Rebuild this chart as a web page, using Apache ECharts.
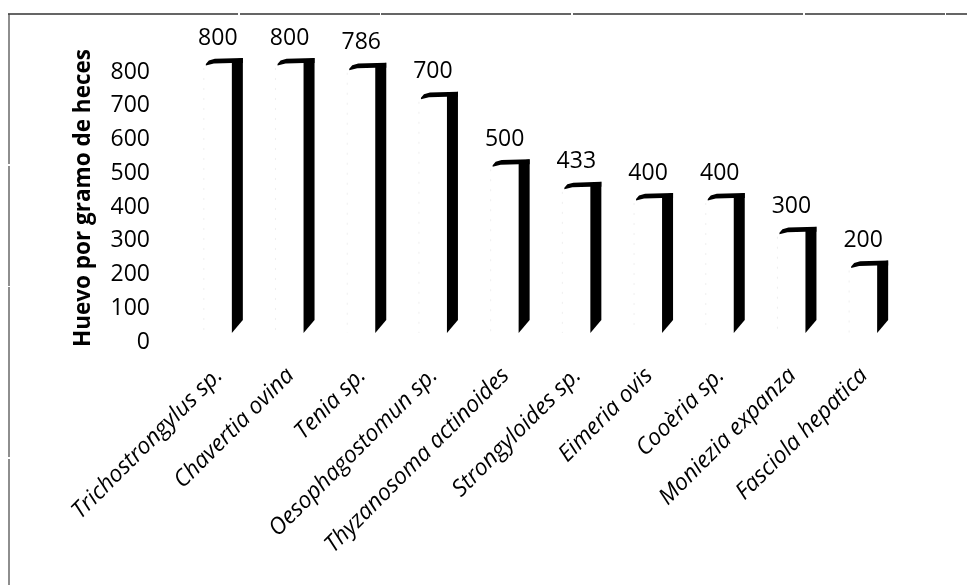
<!DOCTYPE html>
<html>
<head>
<meta charset="utf-8">
<title>Huevo por gramo de heces</title>
<script src="https://cdn.jsdelivr.net/npm/echarts@6/dist/echarts.min.js"></script>
<style>
  html, body { margin: 0; padding: 0; background: #fff; }
  #chart { width: 967px; height: 585px; }
</style>
</head>
<body>
<div id="chart"></div>
<script>
// Parasite species (x axis)
const categories = [
  'Trichostrongylus sp.', 'Chavertia ovina', 'Tenia sp.', 'Oesophagostomun sp.',
  'Thyzanosoma actinoides', 'Strongyloides sp.', 'Eimeria ovis', 'Cooèria sp.',
  'Moniezia expanza', 'Fasciola hepatica'
];
// Eggs per gram of faeces for each species
const hpgValues = [800, 800, 786, 700, 500, 433, 400, 400, 300, 200];
// Value axis ticks
const yTicks = [0, 100, 200, 300, 400, 500, 600, 700, 800];

const FONT = '"Open Sans", "Noto Sans", sans-serif';

// 3D column drawn as its dark right side face plus the back edge of its top face
function renderColumn(params, api) {
  const idx = api.value(0);
  const val = api.value(1);
  const top = api.coord([idx, val]);
  const base = api.coord([idx, 0]);
  const cx = top[0];
  const t = top[1] - 14;           // back plane sits higher than the front plane
  const b = base[1];
  const ink = '#000';
  return {
    type: 'group',
    children: [
      {
        // faint outline of the front face
        type: 'line',
        shape: { x1: cx - 15, y1: t + 10, x2: cx - 15, y2: b - 9 },
        style: { stroke: '#efefef', lineWidth: 1, lineDash: [2, 8] },
        silent: true
      },
      {
        // side face (parallelogram, slanted bottom)
        type: 'polygon',
        shape: { points: [[cx + 13, t + 2], [cx + 24, t], [cx + 24, b - 22], [cx + 13, b - 9]] },
        style: { fill: ink }
      },
      {
        // top edge hook
        type: 'polygon',
        shape: { points: [
          [cx - 13, t + 6], [cx - 10, t + 2.5], [cx - 4, t + 0.8], [cx + 24, t],
          [cx + 24, t + 5], [cx + 13, t + 5], [cx - 5, t + 5.5], [cx - 13, t + 7.5]
        ] },
        style: { fill: ink }
      },
      {
        type: 'text',
        style: {
          text: String(val),
          x: cx - 1,
          y: t - 20,
          align: 'center',
          verticalAlign: 'middle',
          fontFamily: FONT,
          fontSize: 23,
          fill: '#000'
        }
      }
    ]
  };
}

const chart = echarts.init(document.getElementById('chart'), null, { renderer: 'canvas' });

chart.setOption({
  animation: false,
  backgroundColor: '#fff',
  grid: { left: 183, top: 72, width: 717, height: 270, containLabel: false },
  xAxis: {
    type: 'category',
    data: categories,
    boundaryGap: true,
    axisLine: { show: false },
    axisTick: { show: false },
    axisLabel: {
      interval: 0,
      rotate: 45,
      margin: 30,
      fontFamily: FONT,
      fontStyle: 'italic',
      fontSize: 23,
      color: '#000'
    }
  },
  yAxis: {
    type: 'value',
    min: yTicks[0],
    max: yTicks[yTicks.length - 1],
    interval: yTicks[1] - yTicks[0],
    name: 'Huevo por gramo de heces',
    nameLocation: 'middle',
    nameGap: 88,
    nameTextStyle: {
      fontFamily: FONT, fontWeight: 'bold', fontSize: 22.5, color: '#000',
      padding: [0, 0, 0, 18]
    },
    axisLine: { show: false },
    axisTick: { show: false },
    splitLine: { show: false },
    axisLabel: {
      margin: 33,
      fontFamily: FONT,
      fontSize: 23,
      color: '#000'
    }
  },
  series: [{
    type: 'custom',
    renderItem: renderColumn,
    data: hpgValues.map((v, i) => [i, v]),
    clip: false
  }],
  graphic: [
    {
      type: 'line',
      shape: { x1: 8, y1: 14, x2: 967, y2: 14 },
      style: { stroke: '#333', lineWidth: 1.3, lineDash: [230, 2, 140, 1, 190, 2] },
      silent: true
    },
    {
      type: 'line',
      shape: { x1: 9, y1: 14, x2: 9, y2: 585 },
      style: { stroke: '#444', lineWidth: 1.2, lineDash: [150, 2, 120, 1, 170, 2] },
      silent: true
    }
  ]
});
</script>
</body>
</html>
